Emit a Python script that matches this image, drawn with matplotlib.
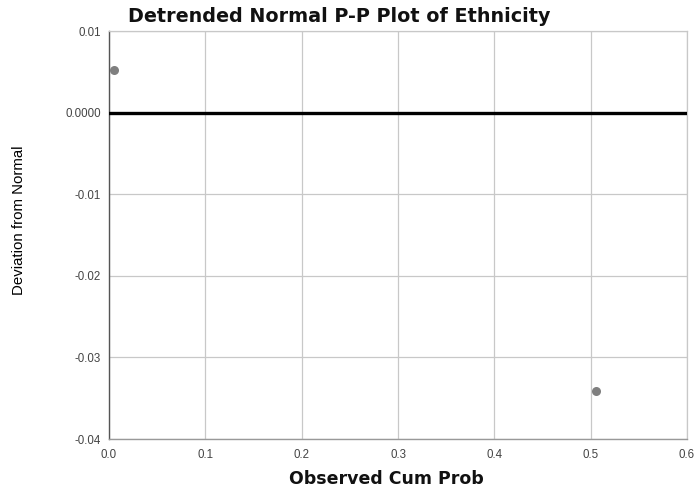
import matplotlib
matplotlib.use("Agg")
import matplotlib.pyplot as plt

plt.rcParams['font.family'] = ['Liberation Sans', 'DejaVu Sans']

# Detrended normal P-P values
observed_cum_prob = [0.005, 0.506]
deviation = [0.0052, -0.0341]

x_ticks = [0.0, 0.1, 0.2, 0.3, 0.4, 0.5, 0.6]
x_tick_labels = ["0.0", "0.1", "0.2", "0.3", "0.4", "0.5", "0.6"]
y_ticks = [0.01, 0.0, -0.01, -0.02, -0.03, -0.04]
y_tick_labels = ["0.01", "0.0000", "-0.01", "-0.02", "-0.03", "-0.04"]

fig = plt.figure(figsize=(6.97, 4.88), dpi=100)
ax = fig.add_axes([0.1564, 0.1004, 0.8293, 0.836])

ax.set_xlim(0.0, 0.6)
ax.set_ylim(-0.04, 0.01)

ax.set_xticks(x_ticks)
ax.set_xticklabels(x_tick_labels)
ax.set_yticks(y_ticks)
ax.set_yticklabels(y_tick_labels)

ax.grid(True, color="#c8c8c8", linewidth=0.9)
ax.set_axisbelow(True)
ax.tick_params(axis="both", length=0, labelsize=8.3, colors="#444444")
ax.tick_params(axis="x", pad=7)
ax.tick_params(axis="y", pad=6)

for side in ["top", "right"]:
    ax.spines[side].set_color("#c8c8c8")
    ax.spines[side].set_linewidth(0.9)
ax.spines["left"].set_color("#555555")
ax.spines["left"].set_linewidth(1.0)
ax.spines["bottom"].set_color("#999999")
ax.spines["bottom"].set_linewidth(1.0)

# Reference line at zero deviation
ax.axhline(0.0, color="black", linewidth=2.4, zorder=3)

ax.plot(observed_cum_prob, deviation, linestyle="none", marker="o",
        markersize=6.5, color="#7f7f7f", markeredgewidth=0, zorder=4,
        clip_on=False)

fig.text(339 / 697, 1 - 16 / 488, "Detrended Normal P-P Plot of Ethnicity",
         ha="center", va="center", fontsize=13.8, fontweight="bold",
         family=["DejaVu Sans"], color="#111111")
fig.text(386 / 697, 1 - 479 / 488, "Observed Cum Prob",
         ha="center", va="center", fontsize=12.5, fontweight="bold",
         family=["DejaVu Sans"], color="#111111")
fig.text(19 / 697, 1 - 220 / 488, "Deviation from Normal",
         ha="center", va="center", rotation=90, fontsize=10.8,
         color="#000000")

fig.savefig("out.png", dpi=100)
